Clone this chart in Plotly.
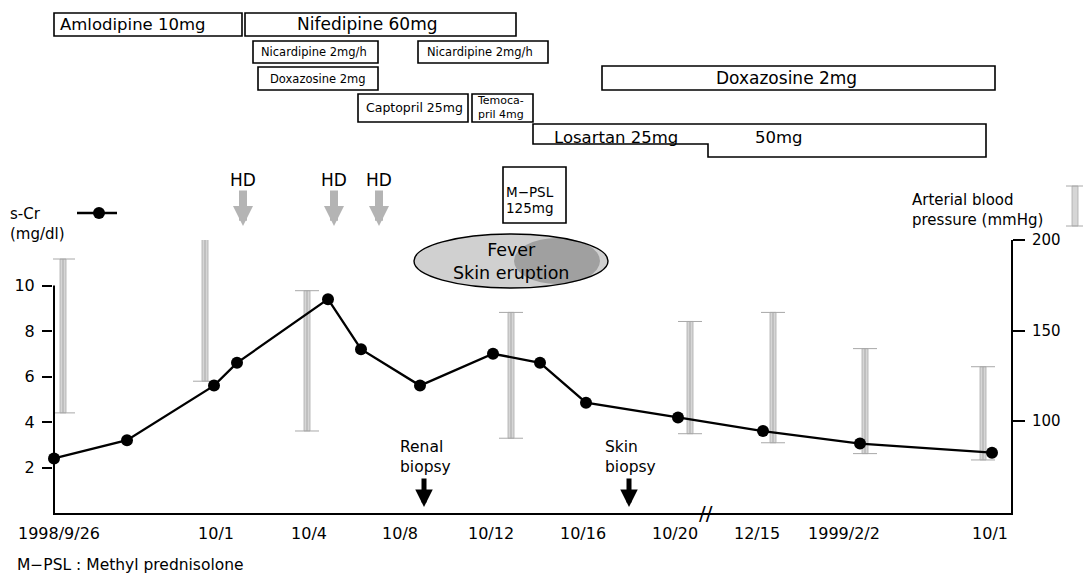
import plotly.graph_objects as go

# ---------------- data ----------------
# Position along the (non-linear) time axis of the original figure, arbitrary units
cr_pos = [0, 73, 160, 183, 274, 307, 366, 439, 486, 532, 624, 709, 806, 938]
cr_val = [2.4, 3.2, 5.6, 6.6, 9.4, 7.2, 5.6, 7.0, 6.6, 4.85, 4.2, 3.6, 3.05, 2.65]

bp_pos = [9, 151, 253, 457, 636, 719, 811, 929]
bp_sys = [189.5, 202, 172, 160, 155, 160, 140, 130]
bp_dia = [104.5, 122, 94.5, 90.5, 93, 88, 82, 78.5]

tick_pos = [5, 162, 255, 346, 437, 529, 621, 703, 790, 936]
tick_lab = ["1998/9/26", "10/1", "10/4", "10/8", "10/12", "10/16", "10/20",
            "12/15", "1999/2/2", "10/1"]

drug_names = ["Amlodipine 10mg", "Nifedipine 60mg", "Nicardipine 2mg/h",
              "Nicardipine 2mg/h", "Doxazosine 2mg", "Doxazosine 2mg",
              "Captopril 25mg", "Temoca-<br>pril 4mg"]
drug_start = [0, 191, 199, 364, 204, 548, 304, 418]
drug_end = [188, 462, 324, 494, 324, 941, 414, 479]

losartan_labels = ["Losartan 25mg", "50mg"]
losartan_start = [479, 654]
losartan_end = [654, 932]

mpsl_lines = ["M\u2212PSL", "125mg"]
mpsl_start, mpsl_end = 449, 512

hd_pos = [189, 280, 325]
biopsy_labels = ["Renal<br>biopsy", "Skin<br>biopsy"]
biopsy_pos = [370, 575]
fever_text = "Fever<br>Skin eruption"
fever_start, fever_end = 360, 554

# ---------------- layout helpers ----------------
W, H = 1083, 580
L, R = 53, 1011
T, B = 240, 513
FONT = "DejaVu Sans"


def py(p):
    return (B - p) / (B - T)


def px(p):
    return (p - L) / (R - L)


# per-box style: (top px, bottom px, font size, x-anchor mode, x shift)
drug_style = [
    (13, 36, 16.5, "left", 4),
    (13, 36, 17, "center", -13),
    (41, 63, 11.5, "center", -2),
    (41, 63, 11.5, "center", -3),
    (67, 90, 11.5, "center", 0),
    (66, 90, 17, "center", -12),
    (94, 122, 12.5, "center", 1),
    (94, 122, 11, "left", 3),
]

fig = go.Figure()

# blood pressure range bars (right axis)
fig.add_trace(go.Bar(
    x=bp_pos, y=[s - d for s, d in zip(bp_sys, bp_dia)], base=bp_dia,
    width=6, yaxis="y",
    marker=dict(color="#d6d6d6", line=dict(color="#ababab", width=0.8)),
    showlegend=False, hoverinfo="skip"))
fig.add_trace(go.Scatter(
    x=bp_pos, y=[(s + d) / 2 for s, d in zip(bp_sys, bp_dia)], mode="markers",
    marker=dict(size=1, color="rgba(0,0,0,0)"), yaxis="y",
    error_y=dict(type="data", array=[(s - d) / 2 for s, d in zip(bp_sys, bp_dia)],
                 symmetric=True, color="#a8a8a8", thickness=1, width=12),
    showlegend=False, hoverinfo="skip", cliponaxis=False))

# serum creatinine (left axis)
fig.add_trace(go.Scatter(
    x=cr_pos, y=cr_val, mode="lines+markers", yaxis="y2",
    line=dict(color="black", width=2.3),
    marker=dict(color="black", size=12),
    showlegend=False, cliponaxis=False))

shapes = []
annotations = []

# left axis line (only up to 10)
shapes.append(dict(type="line", xref="x", yref="y2", x0=0, x1=0, y0=0, y1=10,
                   line=dict(color="black", width=2)))

# drug boxes
for name, s, e, st in zip(drug_names, drug_start, drug_end, drug_style):
    top, bot, fs, mode, dx = st
    shapes.append(dict(type="rect", xref="x", yref="paper", x0=s, x1=e,
                       y0=py(bot), y1=py(top), line=dict(color="black", width=1.6),
                       fillcolor="white", layer="above"))
    if mode == "left":
        ax_x, xa = s + dx, "left"
    else:
        ax_x, xa = (s + e) / 2 + dx, "center"
    annotations.append(dict(text=name, x=ax_x, xref="x", y=py((top + bot) / 2),
                            yref="paper", xanchor=xa, yanchor="middle", align="left",
                            showarrow=False, font=dict(size=fs, color="black")))

# Losartan stepped box
lt, lb1, lb2 = 124, 144, 157
path = (f"M {losartan_start[0]},{py(lt)} L {losartan_end[1]},{py(lt)} "
        f"L {losartan_end[1]},{py(lb2)} L {losartan_start[1]},{py(lb2)} "
        f"L {losartan_start[1]},{py(lb1)} L {losartan_start[0]},{py(lb1)} Z")
shapes.append(dict(type="path", xref="x", yref="paper", path=path,
                   line=dict(color="black", width=1.6), fillcolor="white", layer="above"))
for lab, s, dx in zip(losartan_labels, losartan_start, [19, 45]):
    annotations.append(dict(text=lab, x=s + dx, xref="x", y=py(137), yref="paper",
                            xanchor="left", yanchor="middle", showarrow=False,
                            font=dict(size=16.5, color="black")))

# M-PSL box
shapes.append(dict(type="rect", xref="x", yref="paper", x0=mpsl_start, x1=mpsl_end,
                   y0=py(223), y1=py(167), line=dict(color="black", width=1.6),
                   fillcolor="white", layer="above"))
for line_txt, yy in zip(mpsl_lines, [192, 208]):
    annotations.append(dict(text=line_txt, x=mpsl_start + 1, xref="x", y=py(yy),
                            yref="paper", xanchor="left", yanchor="middle",
                            showarrow=False, font=dict(size=13.5, color="black")))

# Fever ellipse
shapes.append(dict(type="circle", xref="x", yref="paper", x0=fever_start, x1=fever_end,
                   y0=py(288), y1=py(234), line=dict(width=0), fillcolor="#d0d0d0",
                   layer="above"))
shapes.append(dict(type="circle", xref="x", yref="paper", x0=fever_start + 100,
                   x1=fever_end - 8, y0=py(284), y1=py(238), line=dict(width=0),
                   fillcolor="#a0a0a0", layer="above"))
shapes.append(dict(type="circle", xref="x", yref="paper", x0=fever_start, x1=fever_end,
                   y0=py(288), y1=py(234), line=dict(color="black", width=1.4),
                   layer="above"))
annotations.append(dict(text=fever_text, x=(fever_start + fever_end) / 2, xref="x",
                        y=py(261), yref="paper", xanchor="center", yanchor="middle",
                        showarrow=False, font=dict(size=17.5, color="black")))

# HD arrows
for hx in hd_pos:
    annotations.append(dict(text="HD", x=hx, xref="x", y=py(180), yref="paper",
                            xanchor="center", yanchor="middle",
                            showarrow=False, font=dict(size=17, color="black")))
    annotations.append(dict(text="", x=hx, xref="x", y=py(226), yref="paper",
                            showarrow=True, ax=0, ay=-37, arrowhead=2, arrowwidth=8,
                            arrowsize=0.5, arrowcolor="#b4b4b4"))

# biopsy arrows
for lab, bx in zip(biopsy_labels, biopsy_pos):
    annotations.append(dict(text=lab, x=bx + 1, xref="x", y=py(457), yref="paper",
                            xanchor="center", yanchor="middle", align="left",
                            showarrow=False, font=dict(size=15.5, color="black")))
    annotations.append(dict(text="", x=bx, xref="x", y=py(507), yref="paper",
                            showarrow=True, ax=0, ay=-30, arrowhead=2, arrowwidth=5,
                            arrowsize=0.7, arrowcolor="black"))

# axis break mark
annotations.append(dict(text="//", x=652, xref="x", y=0, yref="paper",
                        showarrow=False, font=dict(size=20, color="black"),
                        xanchor="center", yanchor="middle"))

# s-Cr legend
annotations.append(dict(text="s-Cr<br>(mg/dl)", x=px(8), xref="paper", y=py(224),
                        yref="paper", xanchor="left", yanchor="middle", align="left",
                        showarrow=False, font=dict(size=15, color="black")))
shapes.append(dict(type="line", xref="paper", yref="paper", x0=px(77), x1=px(117),
                   y0=py(213), y1=py(213), line=dict(color="black", width=2.5)))
shapes.append(dict(type="circle", xref="paper", yref="paper", x0=px(93), x1=px(105),
                   y0=py(219), y1=py(207), fillcolor="black", line=dict(width=0)))

# BP legend
annotations.append(dict(text="Arterial blood<br>pressure (mmHg)", x=px(910),
                        xref="paper", y=py(210), yref="paper", xanchor="left",
                        yanchor="middle", align="left", showarrow=False,
                        font=dict(size=15, color="black")))
shapes.append(dict(type="rect", xref="paper", yref="paper", x0=px(1072), x1=px(1078),
                   y0=py(226), y1=py(186), fillcolor="#d6d6d6",
                   line=dict(color="#ababab", width=0.8)))
for yy in (186, 226):
    shapes.append(dict(type="line", xref="paper", yref="paper", x0=px(1066),
                       x1=px(1084), y0=py(yy), y1=py(yy),
                       line=dict(color="#a8a8a8", width=1)))

# footnote
annotations.append(dict(text="M\u2212PSL : Methyl prednisolone", x=px(15), xref="paper",
                        y=py(565), yref="paper", xanchor="left", yanchor="middle",
                        showarrow=False, font=dict(size=15.5, color="black")))

fig.update_layout(
    width=W, height=H, autosize=False,
    margin=dict(l=L, r=W - R, t=T, b=H - B, pad=0),
    paper_bgcolor="white", plot_bgcolor="white",
    font=dict(family=FONT, color="black"),
    bargap=0,
    xaxis=dict(range=[-1, 957], showgrid=False, zeroline=False, showline=True,
               linecolor="black", linewidth=2, tickvals=tick_pos, ticktext=tick_lab,
               ticks="", tickfont=dict(size=16), ticklabelstandoff=5, fixedrange=True),
    yaxis=dict(range=[49.2, 200], side="right", showgrid=False, zeroline=False,
               showline=True, linecolor="black", linewidth=2, ticks="outside",
               ticklen=12, tickwidth=2, tickcolor="black", tickvals=[100, 150, 200],
               tickfont=dict(size=15), ticklabelstandoff=4),
    yaxis2=dict(range=[0, 12], overlaying="y", side="left", showgrid=False,
                zeroline=False, showline=False, ticks="outside", ticklen=10,
                tickwidth=2, tickcolor="black", tickvals=[2, 4, 6, 8, 10],
                tickfont=dict(size=16), ticklabelstandoff=4),
    shapes=shapes, annotations=annotations,
)

fig.write_html(
    "out.html",
    config={"displayModeBar": False, "staticPlot": True},
    post_script="document.body.style.margin='0';document.body.style.overflow='hidden';",
)
